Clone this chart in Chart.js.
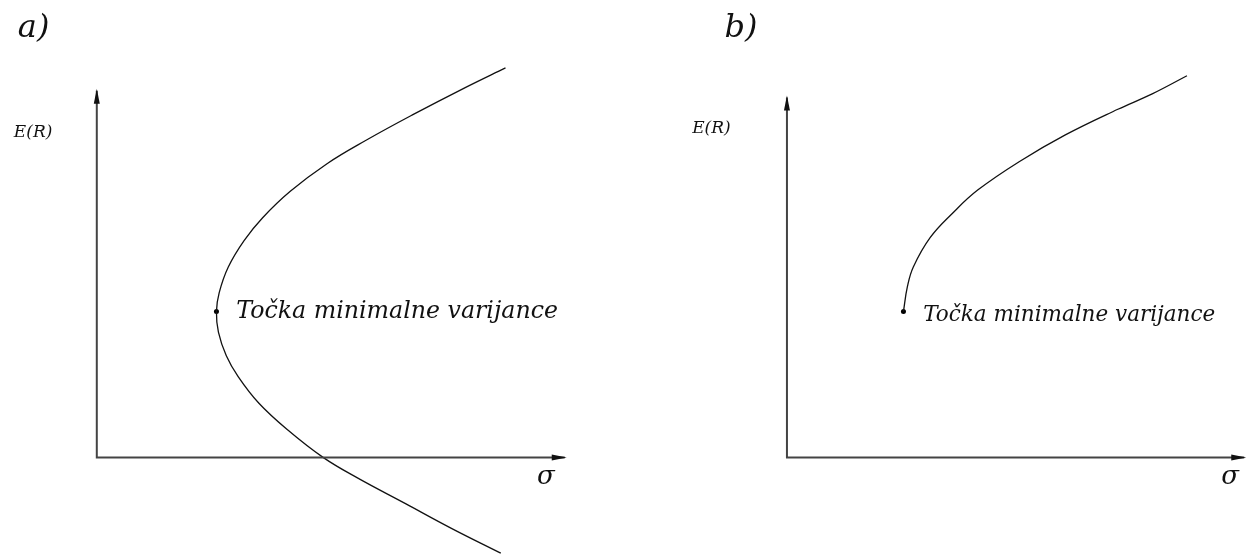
<!DOCTYPE html>
<html>
<head>
<meta charset="utf-8">
<script src="https://cdn.jsdelivr.net/npm/chart.js@4/dist/chart.umd.min.js"></script>
<style>
  html, body { margin: 0; padding: 0; background: #fff; }
  #wrap { position: relative; width: 1250px; height: 557px; }
  canvas { position: absolute; top: 0; }
  #chartA { left: 0; }
  #chartB { left: 625px; }
</style>
</head>
<body>
<div id="wrap">
  <canvas id="chartA" width="625" height="557"></canvas>
  <canvas id="chartB" width="625" height="557"></canvas>
</div>
<script>
// granica (efficient frontier) - a) cijela hiperbola, b) samo gornji dio
const sigmaA = [10.35, 9.33, 7.98, 6.83, 5.83, 4.9, 4.2, 3.73, 3.33, 3.1, 3.03, 3.08, 3.28, 3.58, 4.1, 4.83, 5.73, 6.6, 7.83, 8.98, 10.23];
const returnA = [9.88, 9.38, 8.68, 8.05, 7.45, 6.75, 6.08, 5.5, 4.83, 4.18, 3.7, 3.18, 2.58, 2.05, 1.38, 0.7, 0, -0.52, -1.18, -1.8, -2.43];

const sigmaB = [2.95, 3.05, 3.2, 3.63, 4.2, 4.83, 5.88, 7.05, 8.38, 9.25, 10.13];
const returnB = [3.7, 4.33, 4.83, 5.58, 6.2, 6.78, 7.5, 8.18, 8.83, 9.22, 9.68];

// točka minimalne varijance
const minVarA = { x: 3.03, y: 3.7 };
const minVarB = { x: 2.95, y: 3.7 };

// duljine osi
const axisA = { xEnd: 11.85, yEnd: 9.3 };
const axisB = { xEnd: 11.58, yEnd: 9.13 };

const titles = ['a)', 'b)'];
const pointLabel = 'Točka minimalne varijance';
const yLabel = 'E(R)';
const xLabel = 'σ';

const serif = '"DejaVu Serif", "Liberation Serif", serif';

function toPoints(xs, ys) {
  return xs.map((x, i) => ({ x: x, y: ys[i] }));
}

// strelice i tekst
const annotate = {
  id: 'annotate',
  afterDatasetsDraw(chart, args, opts) {
    const c = chart.ctx;
    const sx = chart.scales.x, sy = chart.scales.y;
    const ox = sx.getPixelForValue(0), oy = sy.getPixelForValue(0);
    const tx = sx.getPixelForValue(opts.axis.xEnd);
    const ty = sy.getPixelForValue(opts.axis.yEnd);
    c.save();
    c.fillStyle = '#111';
    // strelica na y osi
    c.beginPath();
    c.moveTo(ox, ty - 2);
    c.lineTo(ox - 3, ty + 13);
    c.lineTo(ox + 3, ty + 13);
    c.closePath();
    c.fill();
    // strelica na x osi
    c.beginPath();
    c.moveTo(tx + 2, oy);
    c.lineTo(tx - 13, oy - 3);
    c.lineTo(tx - 13, oy + 3);
    c.closePath();
    c.fill();

    c.textBaseline = 'middle';
    c.textAlign = 'left';
    c.font = 'italic 32px ' + serif;
    c.fillText(opts.title, sx.getPixelForValue(opts.titleAt.x), sy.getPixelForValue(opts.titleAt.y));

    c.font = 'italic 17px ' + serif;
    c.fillText(yLabel, sx.getPixelForValue(opts.yLabelAt.x), sy.getPixelForValue(opts.yLabelAt.y));

    c.font = 'italic 26px ' + serif;
    c.fillText(xLabel, sx.getPixelForValue(opts.sigmaAt.x), sy.getPixelForValue(opts.sigmaAt.y));

    c.font = 'italic ' + opts.labelSize + 'px ' + serif;
    c.fillText(pointLabel, sx.getPixelForValue(opts.minVar.x + 0.5), sy.getPixelForValue(opts.minVar.y - opts.labelDy));
    c.restore();
  }
};

function makeChart(id, xs, ys, minVar, axis, xMin, xMax, extra) {
  return new Chart(document.getElementById(id), {
    type: 'scatter',
    data: {
      datasets: [
        {
          // osi
          data: [{ x: 0, y: axis.yEnd }, { x: 0, y: 0 }, { x: axis.xEnd, y: 0 }],
          showLine: true,
          borderColor: '#444',
          borderWidth: 2,
          pointRadius: 0,
          tension: 0
        },
        {
          data: toPoints(xs, ys),
          showLine: true,
          borderColor: '#111',
          borderWidth: 1.3,
          pointRadius: 0,
          tension: 0.4
        },
        {
          data: [minVar],
          pointRadius: 2.5,
          pointBackgroundColor: '#000',
          pointBorderWidth: 0
        }
      ]
    },
    options: {
      responsive: false,
      animation: false,
      clip: false,
      layout: { padding: 0 },
      scales: {
        x: { type: 'linear', display: false, min: xMin, max: xMax },
        y: { type: 'linear', display: false, min: -2.425, max: 11.5 }
      },
      plugins: {
        legend: { display: false },
        tooltip: { enabled: false },
        annotate: Object.assign({ axis: axis, minVar: minVar }, extra)
      }
    },
    plugins: [annotate]
  });
}

makeChart('chartA', sigmaA, returnA, minVarA, axisA, -2.35, 13.275, {
  title: titles[0],
  titleAt: { x: -2.0, y: 10.88 },
  yLabelAt: { x: -2.1, y: 8.25 },
  sigmaAt: { x: 11.15, y: -0.5 },
  labelSize: 23.7,
  labelDy: 0.02
});

makeChart('chartB', sigmaB, returnB, minVarB, axisB, -4, 11.625, {
  title: titles[1],
  titleAt: { x: -1.58, y: 10.88 },
  yLabelAt: { x: -2.4, y: 8.35 },
  sigmaAt: { x: 11.0, y: -0.5 },
  labelSize: 21.5,
  labelDy: 0.1
});
</script>
</body>
</html>
